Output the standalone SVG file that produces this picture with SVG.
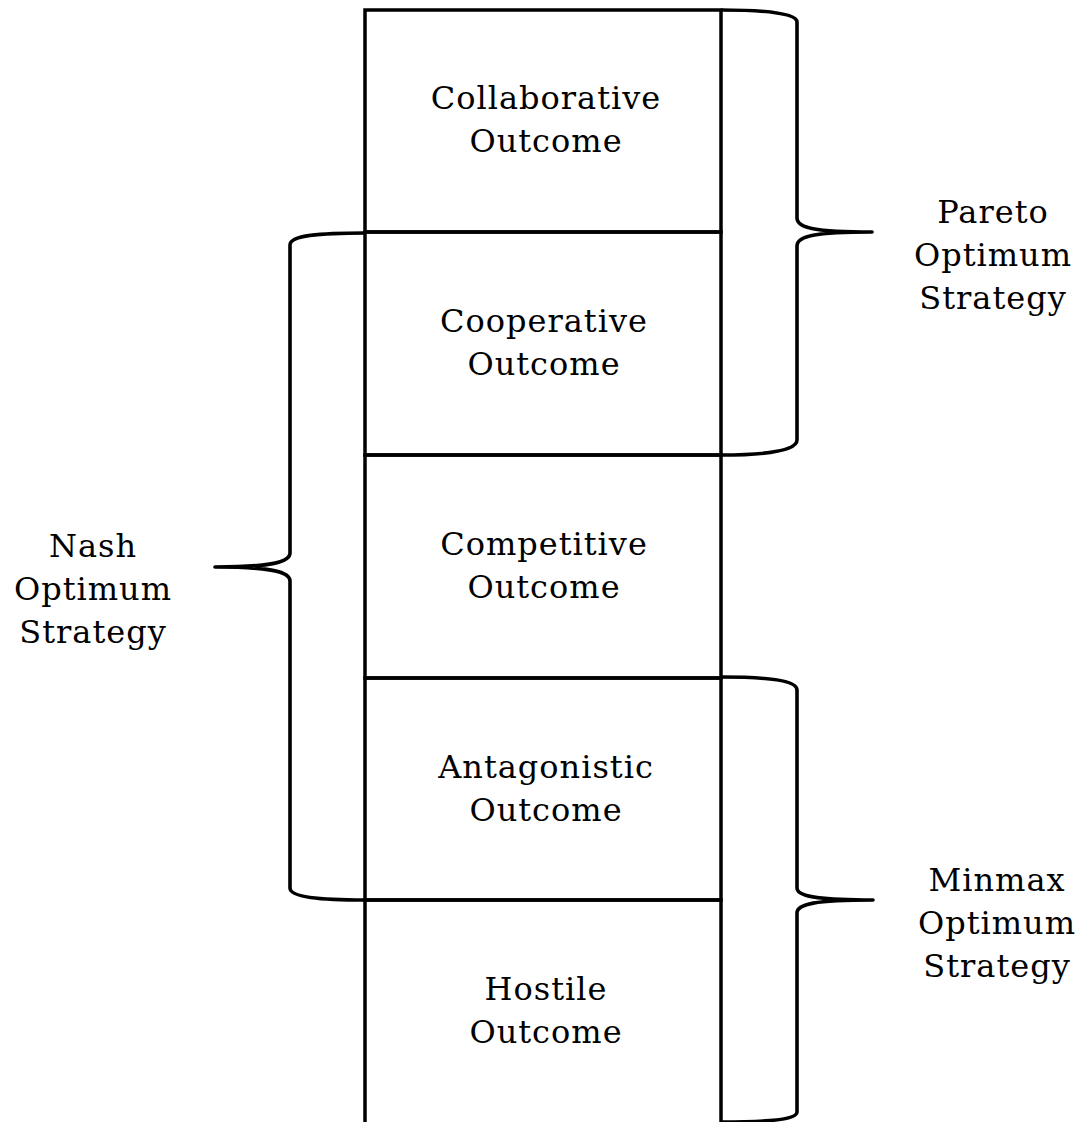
<svg xmlns="http://www.w3.org/2000/svg" width="1086" height="1122" viewBox="0 0 1086 1122">
  <style>
    .box { fill: none; stroke: #000; stroke-width: 3.5; }
    .brace { fill: none; stroke: #000; stroke-width: 3.6; stroke-linejoin: round; }
    text { font-family: "DejaVu Serif", "Liberation Serif", serif; font-size: 32px; letter-spacing: 1px; fill: #000; text-anchor: middle; }
  </style>
  <rect width="1086" height="1122" fill="#fff"/>

  <!-- outcome boxes stacked in one column -->
  <g id="collaborative">
    <rect class="box" x="365" y="10" width="356" height="222"/>
    <text x="546" y="109">Collaborative</text>
    <text x="546" y="152">Outcome</text>
  </g>
  <g id="cooperative">
    <rect class="box" x="365" y="232" width="356" height="223"/>
    <text x="544" y="332">Cooperative</text>
    <text x="544" y="375">Outcome</text>
  </g>
  <g id="competitive">
    <rect class="box" x="365" y="455" width="356" height="223"/>
    <text x="544" y="555">Competitive</text>
    <text x="544" y="598">Outcome</text>
  </g>
  <g id="antagonistic">
    <rect class="box" x="365" y="678" width="356" height="222"/>
    <text x="546" y="778">Antagonistic</text>
    <text x="546" y="821">Outcome</text>
  </g>
  <g id="hostile">
    <rect class="box" x="365" y="900" width="356" height="224"/>
    <text x="546" y="1000">Hostile</text>
    <text x="546" y="1043">Outcome</text>
  </g>

  <!-- strategy labels -->
  <g id="pareto">
    <text x="993" y="223">Pareto</text>
    <text x="993" y="266">Optimum</text>
    <text x="993" y="309">Strategy</text>
  </g>
  <g id="nash">
    <text x="93" y="557">Nash</text>
    <text x="93" y="600">Optimum</text>
    <text x="93" y="643">Strategy</text>
  </g>
  <g id="minmax">
    <text x="997" y="891">Minmax</text>
    <text x="997" y="934">Optimum</text>
    <text x="997" y="977">Strategy</text>
  </g>

  <!-- braces grouping outcomes under each strategy -->
  <g id="connectors">
    <path class="brace" d="M721,10 C765,10 797,13 797,22 L797,218 C797,228 815,232 872,232 C815,232 797,236 797,246 L797,440 C797,451 765,455 721,455"/>
    <path class="brace" d="M365,233 C320,233 290,235 290,245 L290,553 C290,562 272,567 215,567 C272,567 290,572 290,581 L290,888 C290,897 320,900 365,900"/>
    <path class="brace" d="M721,677 C765,677 797,680 797,690 L797,888 C797,896 815,900 873,900 C815,900 797,904 797,913 L797,1112 C797,1120 765,1122 721,1122"/>
  </g>
</svg>
